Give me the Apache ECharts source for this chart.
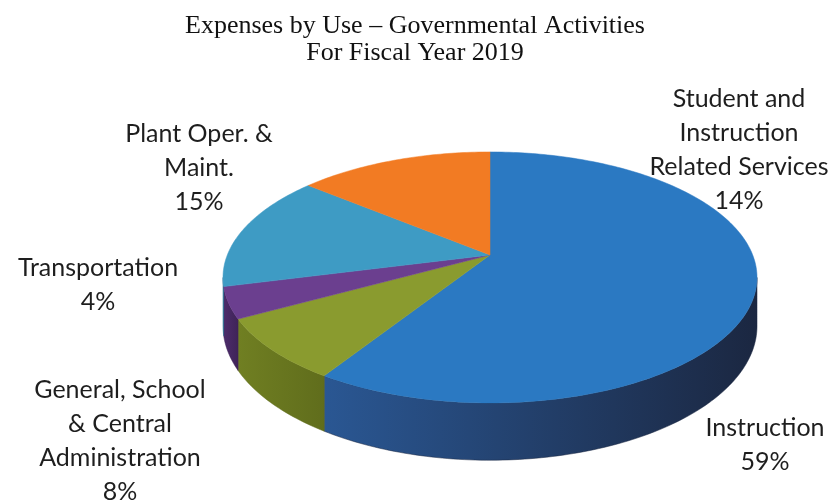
<!DOCTYPE html>
<html>
<head>
<meta charset="utf-8">
<script src="https://cdn.jsdelivr.net/npm/echarts@6/dist/echarts.min.js"></script>
<style>
html, body { margin: 0; padding: 0; background: #fff; }
#main { width: 835px; height: 502px; }
</style>
</head>
<body>
<div id="main"></div>
<script>
// data
var titleLines = ['Expenses by Use \u2013 Governmental Activities', 'For Fiscal Year 2019'];
var categories = ['Instruction', 'General, School\n& Central\nAdministration', 'Transportation', 'Plant Oper. &\nMaint.', 'Student and\nInstruction\nRelated Services'];
var shares = [59, 8, 4, 15, 14];

// styles
var topColors = ['#2b79c2', '#8a9b2f', '#6b3f8f', '#3e9bc4', '#f27b23'];
var sideColors = [['#2a5793', '#1b2741'], ['#707f22', '#606d1c'], ['#4d2c6b', '#3f2358'], ['#2f7fa3', '#2a7090'], ['#c9621a', '#b0561a']];
var labelAnchor = [[765, 445], [120, 441], [98, 285], [199, 168], [739, 150]];

// pie centre, radii, depth and perspective factor
var CX = 490, CY = 255, SX = 262.7, SY = 121.5, DEPTH = 47, PERSP = 0.179;

var total = shares.reduce(function (a, b) { return a + b; }, 0);
var sliceData = [];
var acc = 0;
shares.forEach(function (v) {
    sliceData.push([acc / total, (acc + v) / total]);
    acc += v;
});

// point on the rim, clockwise from 12 o'clock, seen in perspective
function rim(f, bottom) {
    var a = -Math.PI / 2 + 2 * Math.PI * f;
    var u = Math.cos(a), v = Math.sin(a);
    var w = 1 - PERSP * v;
    return [CX + SX * u / w, CY + SY * v / w + (bottom ? DEPTH / w : 0)];
}

// the side wall shows between the two silhouette points
var tEdge = Math.asin(PERSP);
var wallFrom = (tEdge + Math.PI / 2) / (2 * Math.PI);
var wallTo = (Math.PI - tEdge + Math.PI / 2) / (2 * Math.PI);

function renderItem(params, api) {
    var i = params.dataIndex;
    var f0 = api.value(0), f1 = api.value(1);
    var children = [];
    var k;

    var s0 = Math.max(f0, wallFrom), s1 = Math.min(f1, wallTo);
    if (s1 > s0) {
        var n = Math.max(2, Math.ceil((s1 - s0) * 360));
        var up = [], down = [];
        for (k = 0; k <= n; k++) {
            var f = s0 + (s1 - s0) * k / n;
            up.push(rim(f, false));
            down.unshift(rim(f, true));
        }
        children.push({
            type: 'polygon',
            z2: 1,
            shape: { points: up.concat(down) },
            style: {
                fill: new echarts.graphic.LinearGradient(0, 0, 1, 0, [
                    { offset: 0, color: sideColors[i][0] },
                    { offset: 1, color: sideColors[i][1] }
                ]),
                stroke: sideColors[i][1],
                lineWidth: 0.5
            }
        });
    }

    // top face
    var steps = Math.max(2, Math.ceil((f1 - f0) * 360));
    var pts = [[CX, CY]];
    for (k = 0; k <= steps; k++) pts.push(rim(f0 + (f1 - f0) * k / steps, false));
    children.push({
        type: 'polygon',
        z2: 10,
        shape: { points: pts },
        style: { fill: topColors[i], stroke: topColors[i], lineWidth: 0.5 }
    });

    // label
    children.push({
        type: 'text',
        z2: 20,
        x: labelAnchor[i][0],
        y: labelAnchor[i][1],
        style: {
            text: categories[i] + '\n' + shares[i] + '%',
            fill: '#1e1e1e',
            font: '25px Lato',
            lineHeight: 34,
            align: 'center',
            verticalAlign: 'middle'
        }
    });

    return { type: 'group', children: children };
}

var myChart = echarts.init(document.getElementById('main'));
myChart.setOption({
    backgroundColor: '#fff',
    animation: false,
    title: {
        text: titleLines.join('\n'),
        left: 410,
        top: 8,
        textAlign: 'center',
        textStyle: {
            fontFamily: 'Liberation Serif',
            fontWeight: 'normal',
            fontSize: 26,
            lineHeight: 27,
            color: '#111'
        }
    },
    series: [{
        type: 'custom',
        coordinateSystem: 'none',
        renderItem: renderItem,
        data: sliceData
    }]
});
</script>
</body>
</html>
